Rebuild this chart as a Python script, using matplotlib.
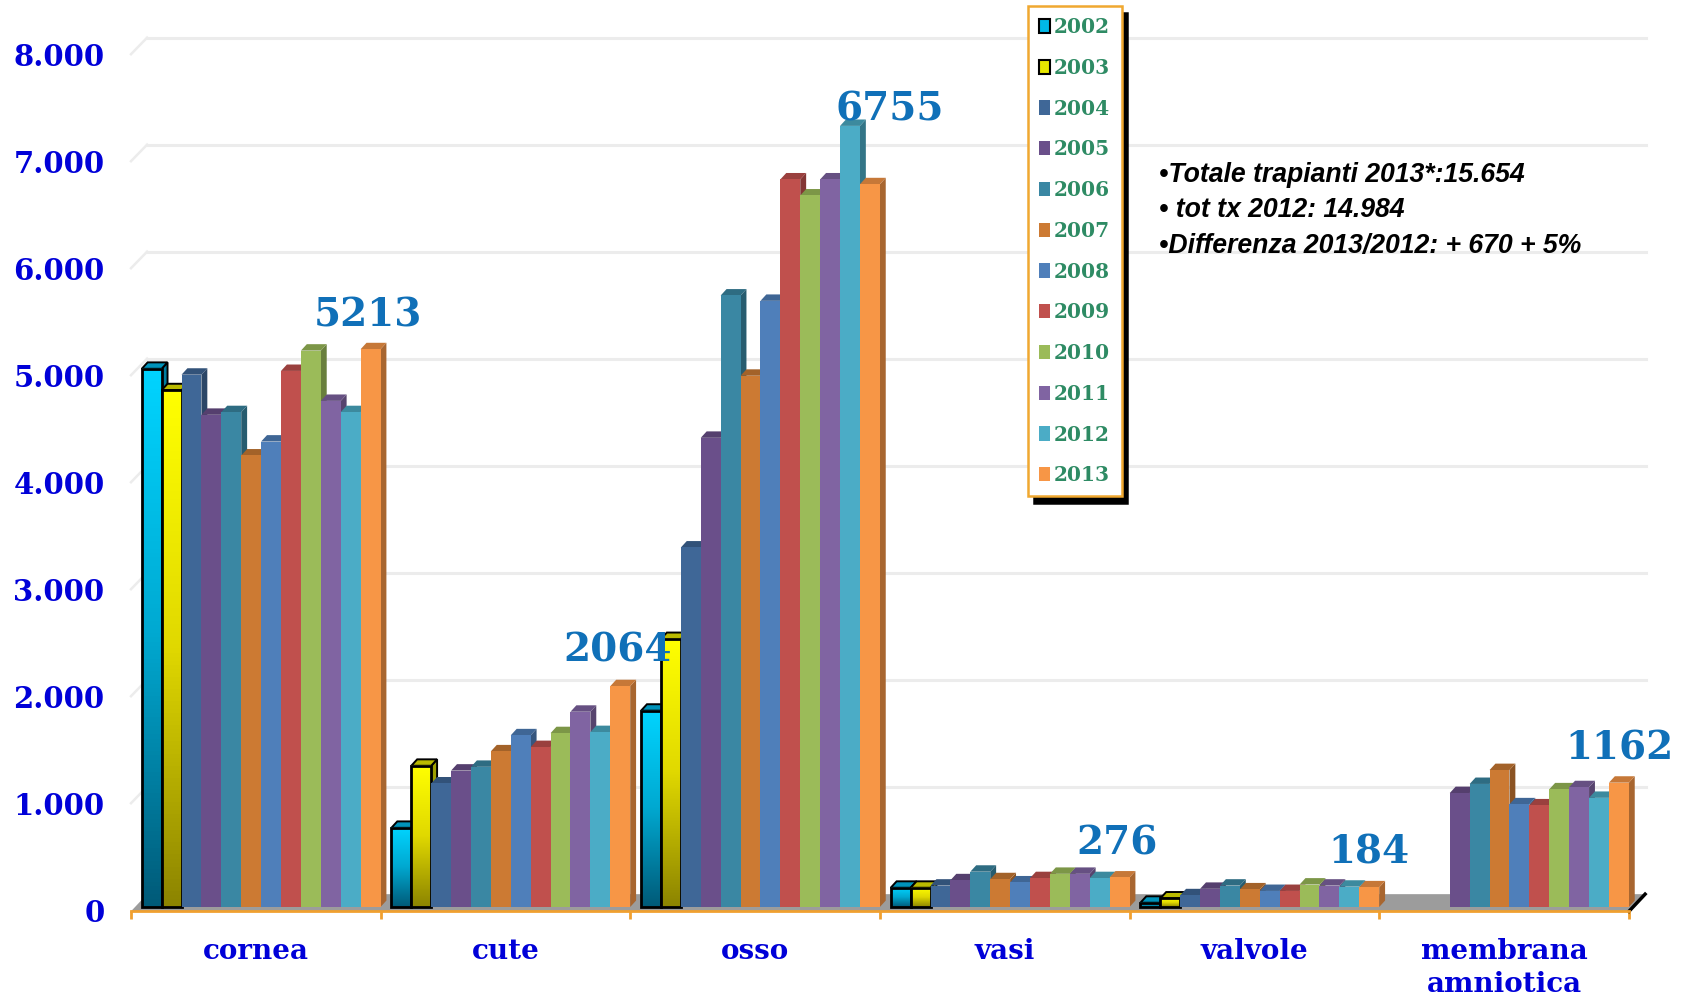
import numpy as np
import matplotlib
matplotlib.use("Agg")
import matplotlib.pyplot as plt
from matplotlib.patches import Patch, Polygon
from matplotlib.colors import LinearSegmentedColormap
from matplotlib.transforms import ScaledTranslation

categories = ['cornea', 'cute', 'osso', 'vasi', 'valvole', 'membrana\namniotica']
years = ['2002', '2003', '2004', '2005', '2006', '2007', '2008', '2009', '2010', '2011', '2012', '2013']

cornea = [5030, 4830, 4975, 4600, 4625, 4220, 4350, 5010, 5200, 4730, 4625, 5213]
cute = [740, 1320, 1155, 1275, 1310, 1455, 1605, 1495, 1625, 1825, 1635, 2064]
osso = [1835, 2505, 3360, 4385, 5715, 4965, 5665, 6800, 6650, 6800, 7300, 6755]
vasi = [180, 180, 200, 250, 330, 260, 230, 270, 310, 310, 270, 276]
valvole = [40, 80, 110, 170, 200, 165, 150, 150, 210, 200, 190, 184]
membrana = [0, 0, 0, 1065, 1150, 1280, 960, 950, 1100, 1120, 1020, 1162]
all_values = [cornea, cute, osso, vasi, valvole, membrana]

y_ticks = [0, 1000, 2000, 3000, 4000, 5000, 6000, 7000, 8000]
y_labels = ['0', '1.000', '2.000', '3.000', '4.000', '5.000', '6.000', '7.000', '8.000']

colors = ['#00b8e8', '#e8e800', '#3f6797', '#6a4f8a', '#3a87a3', '#cc7a33',
          '#4f7fba', '#c0504d', '#9bbb59', '#8064a2', '#4bacc6', '#f79646']

W, H = 1683, 996
fig = plt.figure(figsize=(W / 100, H / 100), dpi=100)
# x=0..6 is 131..1629 px, y=0..8000 is 907..51 px
ax = fig.add_axes([131 / W, (H - 907) / H, (1629 - 131) / W, (907 - 51) / H])
ax.set_xlim(0, 6)
ax.set_ylim(0, 8000)

depth_x = 0.0645
depth_y = 120
floor_y = -40
bar_w = 0.0797
pad = 0.043
side_x = 0.0236
side_y = 60

# back wall lines
for v in y_ticks[1:]:
    ax.plot([depth_x, 6.07], [v + depth_y + 5, v + depth_y + 5], color='#ececec', lw=2.2, zorder=1, clip_on=False)
    ax.plot([0, depth_x], [v - 30, v + depth_y + 5], color='#ececec', lw=1.8, zorder=1, clip_on=False)

# floor
ax.add_patch(Polygon([(0, floor_y), (6, floor_y), (6 + depth_x, depth_y), (depth_x, depth_y)],
                     facecolor='#9c9c9c', edgecolor='none', zorder=2, clip_on=False))
ax.plot([6, 6 + depth_x], [floor_y, depth_y], color='black', lw=2.5, zorder=2, clip_on=False)


def darker(c, f):
    return tuple(np.array(matplotlib.colors.to_rgb(c)) * f)


z = 3
for c, vals in enumerate(all_values):
    for i, v in enumerate(vals):
        if v == 0:
            continue
        x0 = c + pad + i * bar_w
        x1 = x0 + bar_w
        outlined = i < 2
        ec = 'black' if outlined else 'none'
        lw = 1.4 if outlined else 0
        ax.add_patch(Polygon([(x1, 0), (x1 + side_x, side_y), (x1 + side_x, v + side_y), (x1, v)],
                             facecolor=darker(colors[i], 0.68), edgecolor=ec, lw=lw, zorder=z, clip_on=False))
        ax.add_patch(Polygon([(x0, v), (x0 + side_x, v + side_y), (x1 + side_x, v + side_y), (x1, v)],
                             facecolor=darker(colors[i], 0.8), edgecolor=ec, lw=lw, zorder=z, clip_on=False))
        z += 1
        if i == 0:
            cmap = LinearSegmentedColormap.from_list('c', ['#00d4ff', '#00a8d0', '#005a78'])
        elif i == 1:
            cmap = LinearSegmentedColormap.from_list('y', ['#ffff00', '#e0d800', '#8c8400'])
        if outlined:
            ax.imshow(np.linspace(0, 1, 128).reshape(-1, 1), cmap=cmap, aspect='auto',
                      extent=(x0, x1, 0, v), zorder=z, clip_on=False)
            ax.bar(x0, v, bar_w, align='edge', facecolor='none', edgecolor='black', lw=2, zorder=z + 0.5, clip_on=False)
        else:
            ax.bar(x0, v, bar_w, align='edge', color=colors[i], zorder=z, clip_on=False)
        z += 1

ax.set_xlim(0, 6)
ax.set_ylim(0, 8000)

for s in ['top', 'left', 'right']:
    ax.spines[s].set_visible(False)
ax.spines['bottom'].set_position(('data', floor_y))
ax.spines['bottom'].set_color('#f0a030')
ax.spines['bottom'].set_linewidth(2)
ax.spines['bottom'].set_zorder(200)

ax.set_xticks(range(7))
ax.set_xticklabels([])
ax.set_xticks(np.arange(6) + 0.5, labels=categories, minor=True)
ax.tick_params(axis='x', which='major', length=6, width=2, color='#f0a030')
ax.tick_params(axis='x', which='minor', length=0, pad=19)
for lab in ax.get_xticklabels(minor=True):
    lab.set_fontfamily('DejaVu Serif')
    lab.set_fontweight('bold')
    lab.set_fontsize(20)
    lab.set_color('#0000d8')
    lab.set_linespacing(1.3)

ax.set_yticks(y_ticks, labels=y_labels)
ax.tick_params(axis='y', length=0, pad=19)
shift = ScaledTranslation(0, -3.2 / 72 * 0.72, fig.dpi_scale_trans)
for lab in ax.get_yticklabels():
    lab.set_fontfamily('DejaVu Serif')
    lab.set_fontweight('bold')
    lab.set_fontsize(21)
    lab.set_color('#0000d8')
    lab.set_transform(lab.get_transform() + shift)

# value labels for 2013
label_x = [0.95, 1.95, 3.04, 3.95, 4.96, 5.96]
label_y = [5530, 2395, 7450, 590, 510, 1480]
for c, vals in enumerate(all_values):
    ax.text(label_x[c], label_y[c], str(vals[-1]), family='DejaVu Serif', weight='bold', fontsize=28,
            color='#1070b8', ha='center', va='center', zorder=300, clip_on=False)

# legend
handles = [Patch(facecolor=col, edgecolor='black' if i < 2 else 'none', lw=1.5) for i, col in enumerate(colors)]
leg = fig.legend(handles, years, loc='upper left', bbox_to_anchor=(1028 / W, 1 - 6 / H), bbox_transform=fig.transFigure,
                 ncol=1, fancybox=False, edgecolor='#f0a830', facecolor='white', framealpha=1,
                 shadow={'color': 'black', 'alpha': 1, 'ox': 4, 'oy': -5},
                 handlelength=0.55, handleheight=0.7, handletextpad=0.2, labelspacing=1.03,
                 borderpad=0.55, borderaxespad=0,
                 prop={'family': 'DejaVu Serif', 'weight': 'bold', 'size': 14.5}, labelcolor='#2e8b64')
leg.get_frame().set_linewidth(1.8)
leg.set_zorder(400)

# notes
notes = ['\u2022Totale trapianti 2013*:15.654', '\u2022 tot tx 2012: 14.984', '\u2022Differenza 2013/2012: + 670 + 5%']
notes_y = [175, 210, 246]
for t, py in zip(notes, notes_y):
    fig.text(1159 / W, 1 - py / H, t, family='Liberation Sans', weight='bold', style='italic',
             fontsize=19.2, color='black', va='center', ha='left', zorder=500)

fig.savefig('out.png', dpi=100)
